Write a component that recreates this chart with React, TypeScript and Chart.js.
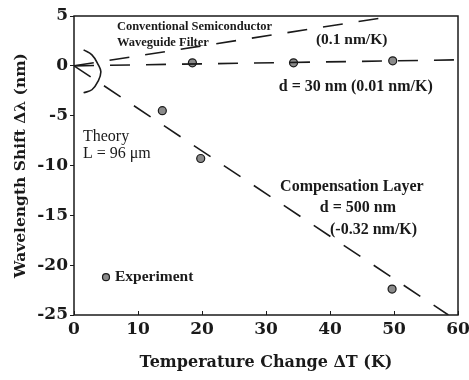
import React, { useEffect, useRef } from "react";
import { Chart, registerables } from "chart.js";

Chart.register(...registerables);

const xTicks = [0, 10, 20, 30, 40, 50, 60];
const yTicks = [5, 0, -5, -10, -15, -20, -25];

const conventionalLine = [{ x: 0, y: 0 }, { x: 50, y: 5 }];
const thinLayerLine = [{ x: 0, y: 0 }, { x: 60, y: 0.6 }];
const compensationLine = [{ x: 0, y: 0 }, { x: 58.5, y: -25 }];

const thinLayerPoints = [{ x: 18.5, y: 0.3 }, { x: 34.3, y: 0.3 }, { x: 49.8, y: 0.5 }];
const compensationPoints = [{ x: 13.8, y: -4.5 }, { x: 19.8, y: -9.3 }, { x: 49.7, y: -22.4 }];
const legendPoint = [{ x: 5, y: -21.2 }];

const arcPoints = [
  { x: 1.5, y: 1.6 }, { x: 2.8, y: 1.1 }, { x: 3.8, y: 0.1 }, { x: 4.2, y: -0.6 },
  { x: 3.8, y: -1.5 }, { x: 2.8, y: -2.4 }, { x: 1.5, y: -2.7 },
];

const serif = "'Liberation Serif'";
const labels = [
  { text: "Conventional Semiconductor", x: 6.7, y: 3.9, font: `bold 12.5px ${serif}` },
  { text: "Waveguide Filter", x: 6.7, y: 2.3, font: `bold 12.5px ${serif}` },
  { text: "(0.1 nm/K)", x: 37.8, y: 2.6, font: `bold 15.5px ${serif}` },
  { text: "d = 30 nm (0.01 nm/K)", x: 32.0, y: -2.1, font: `bold 16px ${serif}` },
  { text: "Theory", x: 1.4, y: -7.1, font: `16px ${serif}` },
  { text: "L = 96 μm", x: 1.4, y: -8.8, font: `16px ${serif}` },
  { text: "Compensation Layer", x: 32.2, y: -12.1, font: `bold 16px ${serif}` },
  { text: "d = 500 nm", x: 38.4, y: -14.3, font: `bold 16px ${serif}` },
  { text: "(-0.32 nm/K)", x: 40.0, y: -16.5, font: `bold 16px ${serif}` },
  { text: "Experiment", x: 6.4, y: -21.2, font: `bold 15.5px ${serif}` },
];

const ink = "#1a1a1a";

const framePlugin = {
  id: "frameAndLabels",
  afterDatasetsDraw(chart: any) {
    const { ctx, chartArea, scales } = chart;
    ctx.save();
    ctx.strokeStyle = ink;
    ctx.lineWidth = 1.5;
    ctx.strokeRect(chartArea.left, chartArea.top, chartArea.right - chartArea.left, chartArea.bottom - chartArea.top);
    ctx.fillStyle = ink;
    ctx.textBaseline = "middle";
    ctx.textAlign = "left";
    for (const l of labels) {
      ctx.font = l.font;
      ctx.fillText(l.text, scales.x.getPixelForValue(l.x), scales.y.getPixelForValue(l.y));
    }
    ctx.restore();
  },
};

export default function App() {
  const ref = useRef<HTMLCanvasElement | null>(null);
  useEffect(() => {
    if (!ref.current) return;
    const pointStyle = {
      type: "scatter" as const,
      showLine: false,
      pointRadius: 4,
      pointBackgroundColor: "#8a8a8a",
      pointBorderColor: ink,
      pointBorderWidth: 1.2,
    };
    const dashed = {
      type: "line" as const,
      borderColor: ink,
      borderWidth: 1.6,
      borderDash: [20, 16],
      pointRadius: 0,
      fill: false,
    };
    const chart = new Chart(ref.current, {
      type: "scatter",
      data: {
        datasets: [
          { ...dashed, data: conventionalLine },
          { ...dashed, data: thinLayerLine },
          { ...dashed, data: compensationLine },
          {
            type: "line",
            data: arcPoints,
            borderColor: ink,
            borderWidth: 1.6,
            pointRadius: 0,
            tension: 0.4,
            fill: false,
          },
          { ...pointStyle, data: thinLayerPoints },
          { ...pointStyle, data: compensationPoints },
          { ...pointStyle, data: legendPoint, pointRadius: 3.5 },
        ] as any,
      },
      options: {
        animation: false,
        responsive: true,
        maintainAspectRatio: false,
        layout: { padding: { left: 0, right: 11, top: 16, bottom: 0 } },
        plugins: { legend: { display: false }, tooltip: { enabled: false } },
        scales: {
          x: {
            type: "linear",
            min: 0,
            max: 60,
            afterBuildTicks: (s: any) => { s.ticks = xTicks.map((v) => ({ value: v })); },
            afterFit: (s: any) => { s.height = 65; s.paddingLeft = 0; s.paddingRight = 0; },
            grid: { display: true, drawOnChartArea: false, drawTicks: true, tickLength: -4, color: ink },
            border: { display: false },
            ticks: {
              color: ink,
              padding: 8,
              font: { family: "'DejaVu Serif'", size: 17, weight: "bold" },
            },
            title: {
              display: true,
              text: "Temperature Change ΔT (K)",
              color: ink,
              padding: { top: 6, bottom: 8 },
              font: { family: "'DejaVu Serif'", size: 16, weight: "bold" },
            },
          },
          y: {
            type: "linear",
            min: -25,
            max: 5,
            afterBuildTicks: (s: any) => { s.ticks = yTicks.map((v) => ({ value: v })); },
            afterFit: (s: any) => { s.width = 74; s.paddingTop = 0; s.paddingBottom = 0; },
            grid: { display: true, drawOnChartArea: false, drawTicks: true, tickLength: 4, color: ink },
            border: { display: false },
            ticks: {
              color: ink,
              padding: 2,
              font: { family: "'DejaVu Serif'", size: 17, weight: "bold" },
            },
            title: {
              display: true,
              text: "Wavelength Shift Δλ (nm)",
              color: ink,
              padding: { top: 12, bottom: 4 },
              font: { family: "'DejaVu Serif'", size: 15.5, weight: "bold" },
            },
          },
        },
      },
      plugins: [framePlugin],
    });
    return () => chart.destroy();
  }, []);
  return (
    <div style={{ position: "absolute", left: 0, top: 0, width: 469, height: 380, background: "#fff" }}>
      <canvas ref={ref} />
    </div>
  );
}
